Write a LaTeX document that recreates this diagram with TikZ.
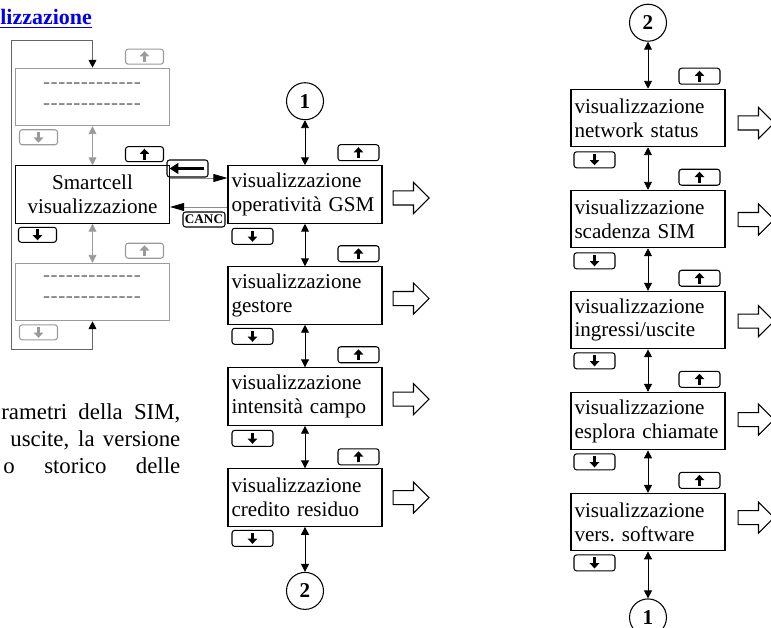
\documentclass[tikz,border=0pt]{standalone}
\usepackage{fontspec}
\setmainfont{Liberation Serif}
\usetikzlibrary{arrows.meta, positioning, shapes.arrows}
\definecolor{link}{HTML}{0000EE}
\definecolor{dim}{HTML}{9A9A9A}
\newcommand\cellfont{\fontsize{12}{13.5}\selectfont}

\begin{document}
\begin{tikzpicture}[
    x = 0.02cm, y = -0.02cm,
    node distance = 0.85cm,
    > = {Triangle[length=4.5pt, width=4.5pt]},
    screen/.style  = {draw, line width=0.6pt, minimum width=3.08cm, minimum height=1.15cm,
                      text width=2.94cm, inner xsep=0.07cm, inner ysep=0pt, align=left, font=\cellfont},
    home/.style    = {screen, text width=2.68cm, align=center},
    ghost/.style   = {home, draw=dim},
    dashes/.style  = {text=black!55, font=\cellfont, inner sep=0pt},
    keyarrow/.style= {line width=1.7pt, -{Triangle[length=3pt, width=5.4pt]}},
    keybox/.style  = {draw=#1, line width=0.6pt, rounded corners=1.5pt, inner sep=0pt,
                      minimum width=0.82cm, minimum height=0.32cm},
    keybox/.default= black,
    keyup/.style   = {keybox=#1, path picture={\draw[keyarrow, #1]
                        ([yshift=-0.11cm]path picture bounding box.center) --
                        ([yshift=0.11cm]path picture bounding box.center);}},
    keyup/.default = black,
    keydown/.style = {keybox=#1, path picture={\draw[keyarrow, #1]
                        ([yshift=0.11cm]path picture bounding box.center) --
                        ([yshift=-0.11cm]path picture bounding box.center);}},
    keydown/.default = black,
    keysmall/.style= {minimum width=0.76cm, minimum height=0.3cm},
    keyback/.style = {keybox, minimum height=0.34cm, path picture={\draw[line width=2pt,
                        -{Triangle[length=5pt, width=6pt]}]
                        ([xshift=0.34cm]path picture bounding box.center) --
                        ([xshift=-0.36cm]path picture bounding box.center);}},
    hop/.style     = {<->, line width=0.5pt},
    ghosthop/.style= {hop, draw=dim},
    side/.style    = {draw=black!45, line width=0.5pt, -{Triangle[length=8pt, width=4.5pt, color=black]}},
    wrap/.style    = {draw=black!60, line width=0.5pt,
                      {Triangle[length=4.5pt, width=4.5pt, color=black]}-{Triangle[length=4.5pt, width=4.5pt, color=black]}},
    hollow/.style  = {single arrow, draw, line width=0.6pt, fill=white, inner xsep=0pt, inner ysep=0.13cm,
                      minimum height=0.72cm, single arrow head extend=0.17cm},
    conn/.style    = {circle, draw, line width=0.6pt, minimum size=0.74cm, inner sep=0pt, font=\cellfont\bfseries},
    body/.style    = {font=\fontsize{13}{15}\selectfont, inner sep=0pt, anchor=base west},
]
\useasboundingbox (0,0) rectangle (771,628);

% ---------------------------------------------- title --------------------------------------------
\node[anchor=base west, inner sep=0pt, text=link, font=\fontsize{12.5}{14}\selectfont\bfseries]
    (title) at (0,25) {\underline{lizzazione}};

% -------------------------------------------- smartcell -------------------------------------------
\node[home]                        (smart) at (92.5,194.5) {Smartcell\\visualizzazione};
\node[ghost, above=0.78cm of smart] (prev)  {};
\node[ghost, below=0.78cm of smart] (next)  {};
\node[dashes] (prev-a) at (92,86)  {-\kern.3pt-\kern.3pt-\kern.3pt-\kern.3pt-\kern.3pt-\kern.3pt-\kern.3pt-\kern.3pt-\kern.3pt-\kern.3pt-\kern.3pt-\kern.3pt-};
\node[dashes] (prev-b) at (92,107) {-\kern.3pt-\kern.3pt-\kern.3pt-\kern.3pt-\kern.3pt-\kern.3pt-\kern.3pt-\kern.3pt-\kern.3pt-\kern.3pt-\kern.3pt-\kern.3pt-};
\node[dashes] (next-a) at (92,279) {-\kern.3pt-\kern.3pt-\kern.3pt-\kern.3pt-\kern.3pt-\kern.3pt-\kern.3pt-\kern.3pt-\kern.3pt-\kern.3pt-\kern.3pt-\kern.3pt-};
\node[dashes] (next-b) at (92,300) {-\kern.3pt-\kern.3pt-\kern.3pt-\kern.3pt-\kern.3pt-\kern.3pt-\kern.3pt-\kern.3pt-\kern.3pt-\kern.3pt-\kern.3pt-\kern.3pt-};

\node[keyup=dim,   keysmall, above left=0.06cm and 0.12cm of prev.north east]  (prev-up)  {};
\node[keydown=dim, keysmall, below right=0.06cm and 0.08cm of prev.south west] (prev-dn)  {};
\node[keyup,       keysmall, above left=0.06cm and 0.12cm of smart.north east] (smart-up) {};
\node[keydown,     keysmall, below right=0.06cm and 0.06cm of smart.south west](smart-dn) {};
\node[keyup=dim,   keysmall, above left=0.08cm and 0.12cm of next.north east]  (next-up)  {};
\node[keydown=dim, keysmall, below right=0.06cm and 0.08cm of next.south west] (next-dn)  {};

\coordinate (wrap-sw) at (11,349);
\coordinate (wrap-nw) at (11,40);

% ------------------------------------------ first column -----------------------------------------
\node[screen]              (gsm)  at (305,194.5) {visualizzazione\\operatività GSM};
\node[screen, below=of gsm]  (gest) {visualizzazione\\gestore};
\node[screen, below=of gest] (camp) {visualizzazione\\intensità campo};
\node[screen, below=of camp] (cred) {visualizzazione\\credito residuo};
\node[conn, above=0.9cm of gsm]  (one-a) {1};
\node[conn, below=0.9cm of cred] (two-a) {2};

\node[keyup,   above left=0.08cm and 0.06cm of gsm.north east]   (gsm-up)  {};
\node[keydown, below right=0.08cm and 0.08cm of gsm.south west]  (gsm-dn)  {};
\node[keyup,   above left=0.08cm and 0.06cm of gest.north east]  (gest-up) {};
\node[keydown, below right=0.06cm and 0.08cm of gest.south west] (gest-dn) {};
\node[keyup,   above left=0.08cm and 0.06cm of camp.north east]  (camp-up) {};
\node[keydown, below right=0.08cm and 0.08cm of camp.south west] (camp-dn) {};
\node[keyup,   above left=0.06cm and 0.06cm of cred.north east]  (cred-up) {};
\node[keydown, below right=0.06cm and 0.08cm of cred.south west] (cred-dn) {};

\node[hollow, right=0.2cm of gsm,  yshift=-0.07cm] (gsm-out)  {};
\node[hollow, right=0.2cm of gest, yshift=-0.06cm] (gest-out) {};
\node[hollow, right=0.2cm of camp, yshift=-0.05cm] (camp-out) {};
\node[hollow, right=0.2cm of cred, yshift=0cm]     (cred-out) {};

\node[keyback] (back) at (187.5,168.5) {};
\node[keybox, minimum width=0.84cm, minimum height=0.3cm, font=\fontsize{7.5}{8}\selectfont\bfseries]
    (canc) at (204,219.5) {CANC};

% ----------------------------------------- second column -----------------------------------------
\node[screen]              (net)  at (648,118) {visualizzazione\\network status};
\node[screen, below=of net]  (sim)  {visualizzazione\\scadenza SIM};
\node[screen, below=of sim]  (io)   {visualizzazione\\ingressi/uscite};
\node[screen, below=of io]   (call) {visualizzazione\\esplora chiamate};
\node[screen, below=of call] (soft) {visualizzazione\\vers.\ software};
\node[conn, above=0.94cm of net]  (two-b) {2};
\node[conn, below=0.94cm of soft] (one-b) {1};

\node[keyup,   above left=0.08cm and 0.1cm of net.north east]    (net-up)  {};
\node[keydown, below right=0.08cm and 0.06cm of net.south west]  (net-dn)  {};
\node[keyup,   above left=0.08cm and 0.1cm of sim.north east]    (sim-up)  {};
\node[keydown, below right=0.08cm and 0.06cm of sim.south west]  (sim-dn)  {};
\node[keyup,   above left=0.08cm and 0.1cm of io.north east]     (io-up)   {};
\node[keydown, below right=0.06cm and 0.06cm of io.south west]   (io-dn)   {};
\node[keyup,   above left=0.08cm and 0.1cm of call.north east]   (call-up) {};
\node[keydown, below right=0.06cm and 0.06cm of call.south west] (call-dn) {};
\node[keyup,   above left=0.08cm and 0.1cm of soft.north east]   (soft-up) {};
\node[keydown, below right=0.06cm and 0.06cm of soft.south west] (soft-dn) {};

\node[hollow, right=0.24cm of net,  yshift=-0.1cm]  (net-out)  {};
\node[hollow, right=0.24cm of sim,  yshift=-0.01cm] (sim-out)  {};
\node[hollow, right=0.24cm of io,   yshift=-0.02cm] (io-out)   {};
\node[hollow, right=0.24cm of call, yshift=0.03cm]  (call-out) {};
\node[hollow, right=0.24cm of soft, yshift=0.09cm]  (soft-out) {};

% ------------------------------------------- body text -------------------------------------------
\node[body] (txt-a) at (1,419)  {\makebox[3.58cm][s]{rametri della SIM,}};
\node[body] (txt-b) at (10,446) {\makebox[3.4cm][s]{uscite, la versione}};
\node[body] (txt-c) at (3,473)  {\makebox[3.54cm][s]{o storico delle}};

% --------------------------------------------- arrows ---------------------------------------------
\draw[ghosthop] (prev) -- (smart);
\draw[ghosthop] (smart) -- (next);
\draw[wrap] (next.south) |- (wrap-sw) -- (wrap-nw) -| (prev.north);

\draw[side] ([yshift=0.33cm]smart.east) -- ([yshift=0.33cm]gsm.west);
\draw[side] ([yshift=-0.25cm]gsm.west) -- ([yshift=-0.25cm]smart.east);

\draw[hop] (one-a) -- (gsm);
\draw[hop] (gsm) -- (gest);
\draw[hop] (gest) -- (camp);
\draw[hop] (camp) -- (cred);
\draw[hop] (cred) -- (two-a);

\draw[hop] (two-b) -- (net);
\draw[hop] (net) -- (sim);
\draw[hop] (sim) -- (io);
\draw[hop] (io) -- (call);
\draw[hop] (call) -- (soft);
\draw[hop] (soft) -- (one-b);

\end{tikzpicture}
\end{document}
